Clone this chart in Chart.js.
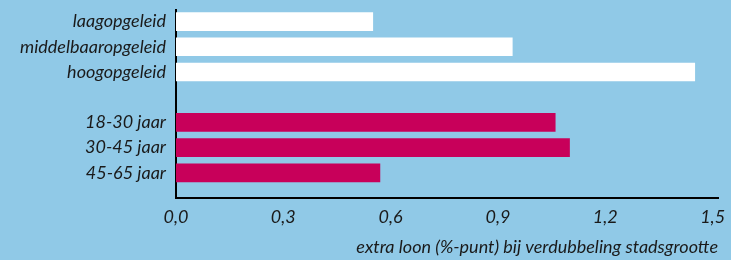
<!DOCTYPE html>
<html>
<head>
<meta charset="utf-8">
<script src="https://cdn.jsdelivr.net/npm/chart.js@4"></script>
<style>
  html, body { margin: 0; padding: 0; background: #90c9e7; }
  #c { display: block; }
</style>
</head>
<body>
<canvas id="c" width="731" height="260"></canvas>
<script>
// Categories (empty string = blank row separating the two groups)
const categories = ['laagopgeleid', 'middelbaaropgeleid', 'hoogopgeleid', '', '18-30 jaar', '30-45 jaar', '45-65 jaar'];
// Extra wage (%-point) per doubling of city size
const educationValues = [0.55, 0.94, 1.45, null, null, null, null];
const ageValues = [null, null, null, null, 1.06, 1.10, 0.57];
const xTickValues = [0, 0.3, 0.6, 0.9, 1.2, 1.5];
const xTitle = 'extra loon (%-punt) bij verdubbeling stadsgrootte';

const toPoints = vals => vals.map((v, i) => v === null ? null : { x: v, y: i }).filter(p => p);

const labelFont = { family: 'Lato', style: 'italic', size: 18 };

new Chart(document.getElementById('c'), {
  type: 'bar',
  data: {
    datasets: [
      { data: toPoints(educationValues), backgroundColor: '#ffffff', barThickness: 18, grouped: false },
      { data: toPoints(ageValues), backgroundColor: '#c8005a', barThickness: 18, grouped: false }
    ]
  },
  options: {
    indexAxis: 'y',
    responsive: false,
    animation: false,
    layout: { padding: { top: 10, right: 13, left: 0, bottom: 0 } },
    plugins: { legend: { display: false }, tooltip: { enabled: false } },
    scales: {
      x: {
        type: 'linear',
        min: 0,
        max: 1.515,
        offset: false,
        grid: { display: false, drawTicks: false },
        border: { display: true, color: '#000', width: 2 },
        afterBuildTicks: s => { s.ticks = xTickValues.map(v => ({ value: v })); },
        afterFit: s => { s.height = 62; s.paddingLeft = 0; s.paddingRight = 0; },
        ticks: {
          padding: 8,
          color: '#1a1a1a',
          font: labelFont,
          maxRotation: 0,
          callback: v => Number(v).toFixed(1).replace('.', ',')
        },
        title: {
          display: true,
          text: xTitle,
          align: 'end',
          color: '#1a1a1a',
          font: labelFont,
          padding: { top: 0, bottom: 2 }
        }
      },
      y: {
        type: 'linear',
        reverse: true,
        offset: false,
        min: -0.46,
        max: 7.0,
        grid: { display: false, drawTicks: false },
        border: { display: true, color: '#000', width: 2 },
        afterBuildTicks: s => {
          s.ticks = categories.map((c, i) => ({ value: i })).filter(t => categories[t.value] !== '');
        },
        afterFit: s => { s.width = 176; s.paddingTop = 0; s.paddingBottom = 0; },
        ticks: {
          padding: 10,
          color: '#1a1a1a',
          font: labelFont,
          callback: v => categories[v]
        }
      }
    }
  }
});
</script>
</body>
</html>
